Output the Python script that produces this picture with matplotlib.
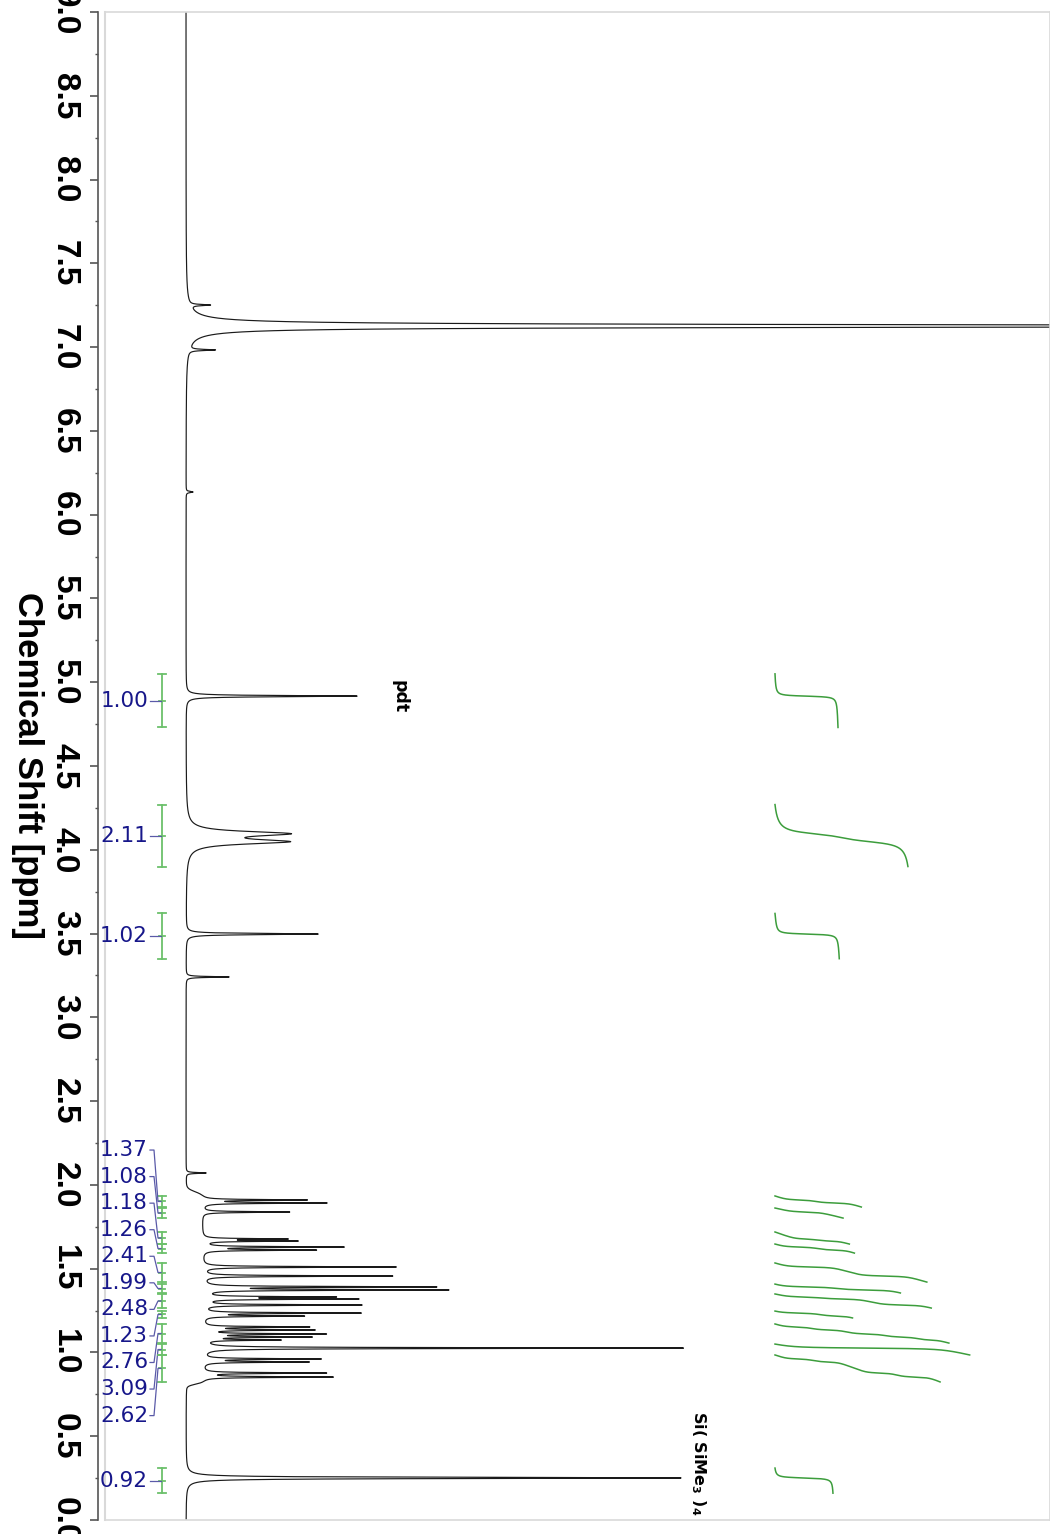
import numpy as np
import matplotlib
matplotlib.use("Agg")
import matplotlib.pyplot as plt
from matplotlib.ticker import MultipleLocator, FormatStrFormatter

# ---------------- data ----------------
# peak centres (ppm), heights (intensity units) and half widths (ppm)
peak_ppm = [7.126, 7.251, 6.983, 6.135, 4.917, 4.096, 4.048, 3.497, 3.241, 2.071,
            1.910, 1.892, 1.838, 1.677, 1.665, 1.629, 1.611, 1.510, 1.456, 1.391,
            1.373, 1.331, 1.319, 1.283, 1.235, 1.217, 1.152, 1.134, 1.110, 1.092,
            1.074, 1.026, 0.961, 0.943, 0.877, 0.853, 0.251]
peak_height = [2000, 20, 26, 7, 171, 96, 95, 132, 43, 20,
               102, 122, 87, 80, 90, 138, 110, 193, 189, 227,
               239, 123, 147, 157, 155, 97, 103, 107, 118, 103,
               73, 480, 115, 103, 122, 129, 495]
peak_hwhm = [0.006, 0.004, 0.004, 0.004, 0.004, 0.016, 0.016, 0.004, 0.003, 0.003,
             0.003, 0.003, 0.003, 0.003, 0.003, 0.003, 0.003, 0.003, 0.003, 0.003,
             0.003, 0.003, 0.003, 0.003, 0.003, 0.003, 0.003, 0.003, 0.003, 0.003,
             0.003, 0.003, 0.003, 0.003, 0.003, 0.003, 0.004]

# broad aliphatic background
hump_range = (0.81, 1.96)
hump_level = 16

# integration regions (ppm high, ppm low) and integral values
integral_ranges = [(5.05, 4.73), (4.27, 3.90), (3.62, 3.35),
                   (1.934, 1.868), (1.862, 1.802), (1.719, 1.647), (1.647, 1.593),
                   (1.534, 1.420), (1.408, 1.355), (1.349, 1.265), (1.247, 1.206),
                   (1.170, 1.056), (1.050, 0.985), (0.985, 0.824),
                   (0.31, 0.16)]
integral_values = [1.00, 2.11, 1.02,
                   1.37, 1.08, 1.18, 1.26, 2.41, 1.99, 2.48, 1.23, 2.76, 3.09, 2.62,
                   0.92]
stacked_integrals = list(range(3, 14))

peak_labels = ["pdt", r"Si( SiMe$_\mathregular{3}$ )$_\mathregular{4}$"]
peak_label_ppm = [4.912, 0.34]

# ---------------- spectrum ----------------
ppm = np.linspace(0, 9, 36001)
inten = np.zeros_like(ppm)
for c, h, w in zip(peak_ppm, peak_height, peak_hwhm):
    inten += h * w**2 / ((ppm - c)**2 + w**2)
lo, hi = hump_range
inten += hump_level * 0.5 * (np.tanh((ppm - lo) / 0.012) - np.tanh((ppm - hi) / 0.02))

# ---------------- figure ----------------
fig = plt.figure(figsize=(10.5, 15.34), dpi=100)
ax = fig.add_axes([0.1, 14 / 1534, 0.9, 1508 / 1534])

ax.plot(inten, ppm, color="#1a1a1a", lw=0.85)
ax.set_xlim(-81, 864)
ax.set_ylim(0, 9)

# integrals
int_color = "#3c9d3c"
bar_color = "#6cc06b"
lab_color = "#17178a"
con_color = "#5a5aa8"
SCALE = 63.0
X0 = 589
stack_top, stack_step = 2.208, 0.1585
for k, ((a, b), val) in enumerate(zip(integral_ranges, integral_values)):
    m = (ppm <= a) & (ppm >= b)
    yy = ppm[m][::-1]
    ii = inten[m][::-1]
    cum = np.concatenate([[0], np.cumsum(0.5 * (ii[1:] + ii[:-1]) * np.abs(np.diff(yy)))])
    cum = cum / cum[-1] * val * SCALE
    ax.plot(X0 + cum, yy, color=int_color, lw=1.1)
    # bar with caps
    ax.plot([-24, -24], [a, b], color=bar_color, lw=1.3, clip_on=False)
    ax.plot([-28, -20], [a, a], color=bar_color, lw=1.3, clip_on=False)
    ax.plot([-28, -20], [b, b], color=bar_color, lw=1.3, clip_on=False)
    mid = 0.5 * (a + b)
    ax.plot([-27, -21], [mid, mid], color=bar_color, lw=1.3, clip_on=False)
    if k in stacked_integrals:
        ly = stack_top - stacked_integrals.index(k) * stack_step
        ax.plot([-36, -32, -28, -25], [ly, ly, mid, mid], color=con_color, lw=0.9, clip_on=False)
    else:
        ly = mid
        ax.plot([-36, -25], [ly, ly], color=con_color, lw=0.9, clip_on=False)
    ax.text(-38, ly, f"{val:.2f}", color=lab_color, fontsize=15.5, ha="right", va="center",
            family="DejaVu Sans")

# peak annotations
ax.text(214, peak_label_ppm[0], peak_labels[0], rotation=-90, fontsize=12.5, fontweight="bold",
        ha="center", va="center", family="DejaVu Sans")
ax.text(512, peak_label_ppm[1], peak_labels[1], rotation=-90, fontsize=11.5, fontweight="bold",
        ha="center", va="center", family="DejaVu Sans")

# axes styling
for s in ["top", "bottom", "right"]:
    ax.spines[s].set_color("#d9d9d9")
    ax.spines[s].set_linewidth(1.2)
ax.spines["left"].set_position(("outward", 5))
ax.spines["left"].set_color("#555555")
ax.spines["left"].set_linewidth(1.2)
ax.plot([0, 0], [0, 1], transform=ax.transAxes, color="#d9d9d9", lw=1.5, clip_on=False)

ax.set_xticks([])
ax.yaxis.set_major_locator(MultipleLocator(0.5))
ax.yaxis.set_minor_locator(MultipleLocator(0.25))
ax.yaxis.set_major_formatter(FormatStrFormatter("%.1f"))
ax.tick_params(axis="y", which="major", length=6, width=1.2, color="#555555", pad=7,
               labelsize=24, labelrotation=-90)
ax.tick_params(axis="y", which="minor", length=2.5, width=1.0, color="#555555")
for t in ax.get_yticklabels():
    t.set_fontweight("bold")
    t.set_family("Liberation Sans")
    t.set_va("center")

ax.set_ylabel("Chemical Shift [ppm]", fontsize=25, fontweight="bold", family="Liberation Sans")
ax.yaxis.label.set_rotation(270)
ax.yaxis.label.set_rotation_mode("default")
ax.yaxis.label.set_ha("center")
ax.yaxis.label.set_va("center")
ax.yaxis.set_label_coords(-0.0815, 0.5)

fig.savefig("out.png", dpi=100)
